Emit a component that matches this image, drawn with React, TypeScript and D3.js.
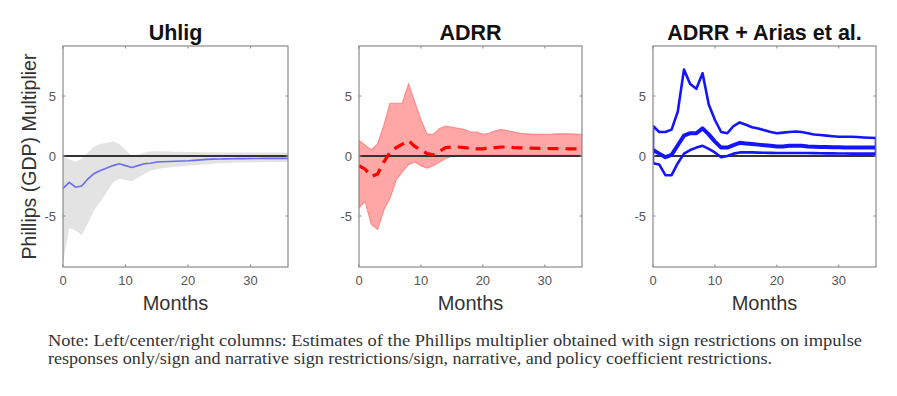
import React from "react";
import * as d3 from "d3";

const months = d3.range(0, 37);

// Uhlig
const uhligMedian = [-2.7, -2.2, -2.6, -2.5, -1.9, -1.45, -1.2, -1.0, -0.8, -0.65, -0.8, -0.95, -0.8, -0.65, -0.6, -0.5, -0.48, -0.46, -0.44, -0.42, -0.4, -0.36, -0.32, -0.28, -0.26, -0.25, -0.24, -0.23, -0.22, -0.22, -0.21, -0.21, -0.2, -0.2, -0.2, -0.2, -0.2];
const uhligUpper = [0.0, -0.3, -0.5, -0.2, 0.3, 0.8, 1.0, 1.1, 1.2, 1.0, 0.5, 0.0, 0.1, 0.3, 0.4, 0.4, 0.4, 0.38, 0.36, 0.35, 0.34, 0.33, 0.32, 0.32, 0.31, 0.3, 0.3, 0.3, 0.3, 0.3, 0.3, 0.3, 0.3, 0.3, 0.3, 0.3, 0.3];
const uhligLower = [-8.9, -6.0, -6.2, -6.6, -5.6, -4.5, -3.8, -3.0, -2.2, -1.9, -2.0, -2.1, -1.8, -1.5, -1.2, -1.1, -1.0, -0.95, -0.9, -0.85, -0.8, -0.76, -0.72, -0.68, -0.64, -0.6, -0.58, -0.56, -0.55, -0.54, -0.53, -0.52, -0.51, -0.5, -0.5, -0.5, -0.5];

// ADRR
const adrrMedian = [-0.8, -1.1, -1.7, -1.5, -0.5, 0.3, 0.7, 1.0, 1.3, 0.8, 0.5, 0.2, 0.1, 0.4, 0.7, 0.75, 0.75, 0.7, 0.65, 0.6, 0.6, 0.65, 0.7, 0.75, 0.75, 0.7, 0.68, 0.66, 0.65, 0.64, 0.63, 0.62, 0.62, 0.61, 0.6, 0.6, 0.6];
const adrrUpper = [1.3, 0.9, 0.5, 1.0, 2.5, 4.4, 4.4, 4.4, 6.0, 4.5, 3.0, 1.8, 1.8, 2.3, 2.5, 2.4, 2.3, 2.2, 2.0, 2.0, 1.8, 1.9, 2.1, 2.2, 2.1, 2.0, 1.9, 1.85, 1.8, 1.8, 1.8, 1.8, 1.85, 1.85, 1.85, 1.8, 1.8];
const adrrLower = [-4.3, -3.8, -5.7, -6.1, -4.5, -3.5, -2.0, -1.3, -0.7, -0.5, -0.8, -1.0, -0.8, -0.5, -0.2, 0.0, 0.05, 0.05, 0.05, 0.05, 0.05, 0.05, 0.05, 0.05, 0.05, 0.05, 0.05, 0.05, 0.05, 0.05, 0.05, 0.05, 0.05, 0.05, 0.05, 0.05, 0.05];

// ADRR + Arias et al.
const ariasMedian = [0.5, 0.2, -0.1, 0.1, 0.9, 1.7, 1.9, 1.9, 2.3, 1.8, 1.2, 0.7, 0.7, 0.9, 1.1, 1.05, 1.0, 0.95, 0.9, 0.85, 0.8, 0.8, 0.85, 0.85, 0.85, 0.8, 0.78, 0.76, 0.75, 0.74, 0.73, 0.72, 0.72, 0.71, 0.7, 0.7, 0.7];
const ariasUpper = [2.5, 2.0, 2.0, 2.2, 3.7, 7.2, 6.0, 5.6, 6.9, 4.3, 3.0, 2.0, 1.9, 2.5, 2.8, 2.6, 2.4, 2.3, 2.15, 2.0, 1.9, 1.95, 2.0, 2.05, 2.0, 1.9, 1.8, 1.75, 1.7, 1.65, 1.6, 1.6, 1.6, 1.58, 1.55, 1.52, 1.5];
const ariasLower = [-0.6, -0.7, -1.6, -1.6, -0.6, 0.2, 0.5, 0.7, 0.85, 0.6, 0.3, -0.1, 0.0, 0.2, 0.3, 0.3, 0.3, 0.28, 0.27, 0.26, 0.25, 0.25, 0.25, 0.25, 0.25, 0.25, 0.24, 0.23, 0.22, 0.22, 0.21, 0.21, 0.2, 0.2, 0.2, 0.2, 0.2];

const titles = ["Uhlig", "ADRR", "ADRR + Arias et al."];
const xTicks = [0, 10, 20, 30];
const yTicks = [-5, 0, 5];
const yLabel = "Phillips (GDP) Multiplier";
const xLabel = "Months";
const noteLines = [
  "Note: Left/center/right columns: Estimates of the Phillips multiplier obtained with sign restrictions on impulse",
  "responses only/sign and narrative sign restrictions/sign, narrative, and policy coefficient restrictions.",
];

const W = 897;
const H = 396;
const top = 46;
const bottom = 267;
const panels = [
  { x0: 63, x1: 288 },
  { x0: 359, x1: 582 },
  { x0: 653, x1: 876 },
];

const y = d3.scaleLinear().domain([-9.25, 9.17]).range([bottom, top]);

type Pt = [number, number];
const sans = "Liberation Sans, Arial, Helvetica, sans-serif";

function Panel({ idx }: { idx: number }) {
  const p = panels[idx];
  const x = d3.scaleLinear().domain([0, 36]).range([p.x0, p.x1]);
  const line = d3.line<Pt>().x((d) => x(d[0])).y((d) => y(d[1]));
  const area = d3
    .area<number>()
    .x((_, i) => x(months[i]))
    .y0((_, i) => y(idx === 0 ? uhligLower[i] : adrrLower[i]))
    .y1((d) => y(d));
  const pts = (arr: number[]): Pt[] => arr.map((v, i) => [months[i], v]);
  const clipId = `clip${idx}`;
  const axisColor = "#8a8a8a";
  const tickColor = "#555";

  let content: React.ReactNode = null;
  if (idx === 0) {
    content = (
      <g>
        <path d={area(uhligUpper) || ""} fill="#e3e3e3" stroke="none" />
        <line x1={p.x0} x2={p.x1} y1={y(0)} y2={y(0)} stroke="#333" strokeWidth={2} />
        <path d={line(pts(uhligMedian)) || ""} fill="none" stroke="#6b6bf5" strokeWidth={1.6} />
      </g>
    );
  } else if (idx === 1) {
    content = (
      <g>
        <path d={area(adrrUpper) || ""} fill="#ffa6a6" stroke="#ff8a8a" strokeWidth={1.2} />
        <line x1={p.x0} x2={p.x1} y1={y(0)} y2={y(0)} stroke="#333" strokeWidth={2} />
        <path
          d={line(pts(adrrMedian)) || ""}
          fill="none"
          stroke="#ff0000"
          strokeWidth={3.2}
          strokeDasharray="11,7"
        />
      </g>
    );
  } else {
    const outline = [...pts(ariasUpper), ...pts(ariasLower).reverse()];
    content = (
      <g>
        <line x1={p.x0} x2={p.x1} y1={y(0)} y2={y(0)} stroke="#333" strokeWidth={2} />
        <path
          d={(line(outline) || "") + "Z"}
          fill="none"
          stroke="#1414ff"
          strokeWidth={2.6}
          strokeLinejoin="round"
        />
        <path
          d={line(pts(ariasMedian)) || ""}
          fill="none"
          stroke="#1414ff"
          strokeWidth={4}
          strokeLinejoin="round"
        />
      </g>
    );
  }

  return (
    <g>
      <defs>
        <clipPath id={clipId}>
          <rect x={p.x0} y={top} width={p.x1 - p.x0} height={bottom - top} />
        </clipPath>
      </defs>
      <rect x={p.x0} y={top} width={p.x1 - p.x0} height={bottom - top} fill="#fff" />
      <g clipPath={`url(#${clipId})`}>{content}</g>
      <rect
        x={p.x0}
        y={top}
        width={p.x1 - p.x0}
        height={bottom - top}
        fill="none"
        stroke={axisColor}
        strokeWidth={1.2}
      />
      {xTicks.map((t) => (
        <g key={`x${t}`}>
          <line x1={x(t)} x2={x(t)} y1={bottom} y2={bottom - 2.5} stroke={axisColor} />
          <line x1={x(t)} x2={x(t)} y1={top} y2={top + 2.5} stroke={axisColor} />
          <text x={x(t)} y={285} textAnchor="middle" fontSize={13} fill={tickColor} fontFamily={sans}>
            {t}
          </text>
        </g>
      ))}
      {yTicks.map((t) => (
        <g key={`y${t}`}>
          <line x1={p.x0} x2={p.x0 + 2.5} y1={y(t)} y2={y(t)} stroke={axisColor} />
          <line x1={p.x1} x2={p.x1 - 2.5} y1={y(t)} y2={y(t)} stroke={axisColor} />
          <text
            x={p.x0 - 7}
            y={y(t) + 4.5}
            textAnchor="end"
            fontSize={13}
            fill={tickColor}
            fontFamily={sans}
          >
            {t}
          </text>
        </g>
      ))}
      <text
        x={(p.x0 + p.x1) / 2}
        y={40}
        textAnchor="middle"
        fontSize={21.5}
        fontWeight="bold"
        fill="#111"
        fontFamily={sans}
      >
        {titles[idx]}
      </text>
      <text x={(p.x0 + p.x1) / 2} y={310} textAnchor="middle" fontSize={20} fill="#333" fontFamily={sans}>
        {xLabel}
      </text>
    </g>
  );
}

export default function App() {
  return (
    <svg
      width={W}
      height={H}
      style={{ position: "absolute", left: 0, top: 0, background: "#fff" }}
    >
      <rect x={0} y={0} width={W} height={H} fill="#fff" />
      {[0, 1, 2].map((i) => (
        <Panel key={i} idx={i} />
      ))}
      <text
        transform={`translate(36, ${(top + bottom) / 2}) rotate(-90)`}
        textAnchor="middle"
        fontSize={19.5}
        fill="#333"
        fontFamily={sans}
      >
        {yLabel}
      </text>
      {noteLines.map((s, i) => (
        <text
          key={i}
          x={48}
          y={346 + i * 18}
          fontSize={16}
          fill="#333"
          fontFamily="Liberation Serif, DejaVu Serif, serif"
          textLength={i === 0 ? 814 : 724}
          lengthAdjust="spacingAndGlyphs"
        >
          {s}
        </text>
      ))}
    </svg>
  );
}
